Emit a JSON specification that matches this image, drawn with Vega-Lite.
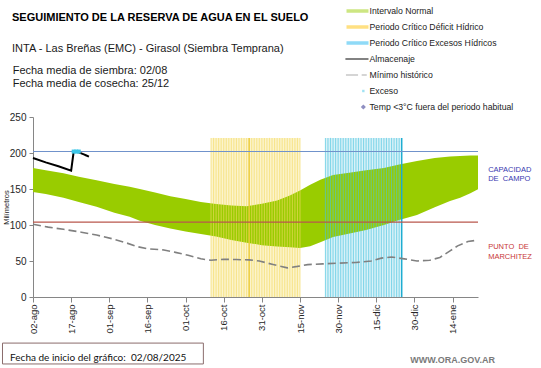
{
  "$schema": "https://vega.github.io/schema/vega-lite/v6.json",
  "width": 445,
  "height": 180,
  "autosize": {"type": "none"},
  "padding": {"left": 33, "top": 117, "right": 63, "bottom": 71},
  "background": "white",
  "title": {
    "text": "SEGUIMIENTO DE LA RESERVA DE AGUA EN EL SUELO",
    "subtitle": "INTA - Las Breñas (EMC) - Girasol (Siembra Temprana)",
    "anchor": "start",
    "frame": "group",
    "dx": -21,
    "offset": -53.5,
    "font": "Liberation Sans",
    "fontSize": 11,
    "fontWeight": "bold",
    "color": "#000000",
    "subtitleFont": "Liberation Sans",
    "subtitleFontSize": 11,
    "subtitleLineHeight": 12.4,
    "subtitlePadding": 19.5,
    "subtitleColor": "#1a1a1a"
  },
  "datasets": {
    "periodos": [
      {"inicio": "2025-10-11", "fin": "2025-11-15", "tipo": "deficit", "base": 0, "tope": 221},
      {"inicio": "2025-11-25", "fin": "2025-12-25", "tipo": "exceso", "base": 0, "tope": 221}
    ],
    "banda": [
      {"fecha": "2025-08-02", "minimo": 146, "maximo": 179},
      {"fecha": "2025-08-07", "minimo": 143, "maximo": 176},
      {"fecha": "2025-08-14", "minimo": 138, "maximo": 172},
      {"fecha": "2025-08-20", "minimo": 132, "maximo": 167},
      {"fecha": "2025-08-27", "minimo": 125.5, "maximo": 162},
      {"fecha": "2025-09-03", "minimo": 117, "maximo": 157},
      {"fecha": "2025-09-09", "minimo": 111.5, "maximo": 153},
      {"fecha": "2025-09-13", "minimo": 106, "maximo": 150},
      {"fecha": "2025-09-19", "minimo": 100, "maximo": 145},
      {"fecha": "2025-09-25", "minimo": 95, "maximo": 140},
      {"fecha": "2025-10-01", "minimo": 91, "maximo": 136},
      {"fecha": "2025-10-07", "minimo": 87.5, "maximo": 132},
      {"fecha": "2025-10-13", "minimo": 84, "maximo": 129},
      {"fecha": "2025-10-19", "minimo": 79, "maximo": 127},
      {"fecha": "2025-10-25", "minimo": 75.5, "maximo": 126},
      {"fecha": "2025-10-31", "minimo": 72, "maximo": 129.5},
      {"fecha": "2025-11-06", "minimo": 70, "maximo": 134},
      {"fecha": "2025-11-11", "minimo": 69, "maximo": 141},
      {"fecha": "2025-11-15", "minimo": 68, "maximo": 148},
      {"fecha": "2025-11-19", "minimo": 70.5, "maximo": 156},
      {"fecha": "2025-11-23", "minimo": 76, "maximo": 163},
      {"fecha": "2025-11-28", "minimo": 83.5, "maximo": 169.5},
      {"fecha": "2025-12-05", "minimo": 88.5, "maximo": 173},
      {"fecha": "2025-12-11", "minimo": 93, "maximo": 176},
      {"fecha": "2025-12-18", "minimo": 100, "maximo": 179},
      {"fecha": "2025-12-24", "minimo": 107, "maximo": 184},
      {"fecha": "2025-12-31", "minimo": 114, "maximo": 189},
      {"fecha": "2026-01-07", "minimo": 124.5, "maximo": 193},
      {"fecha": "2026-01-13", "minimo": 133.5, "maximo": 195},
      {"fecha": "2026-01-17", "minimo": 138, "maximo": 196},
      {"fecha": "2026-01-21", "minimo": 144, "maximo": 196.5},
      {"fecha": "2026-01-24", "minimo": 149.5, "maximo": 196.5}
    ],
    "dias_criticos": [
      {"fecha": "2025-10-11", "tipo": "deficit", "base": 0, "tope": 221},
      {"fecha": "2025-10-12", "tipo": "deficit", "base": 0, "tope": 221},
      {"fecha": "2025-10-13", "tipo": "deficit", "base": 0, "tope": 221},
      {"fecha": "2025-10-14", "tipo": "deficit", "base": 0, "tope": 221},
      {"fecha": "2025-10-15", "tipo": "deficit", "base": 0, "tope": 221},
      {"fecha": "2025-10-16", "tipo": "deficit", "base": 0, "tope": 221},
      {"fecha": "2025-10-17", "tipo": "deficit", "base": 0, "tope": 221},
      {"fecha": "2025-10-18", "tipo": "deficit", "base": 0, "tope": 221},
      {"fecha": "2025-10-19", "tipo": "deficit", "base": 0, "tope": 221},
      {"fecha": "2025-10-20", "tipo": "deficit", "base": 0, "tope": 221},
      {"fecha": "2025-10-21", "tipo": "deficit", "base": 0, "tope": 221},
      {"fecha": "2025-10-22", "tipo": "deficit", "base": 0, "tope": 221},
      {"fecha": "2025-10-23", "tipo": "deficit", "base": 0, "tope": 221},
      {"fecha": "2025-10-24", "tipo": "deficit", "base": 0, "tope": 221},
      {"fecha": "2025-10-25", "tipo": "deficit", "base": 0, "tope": 221},
      {"fecha": "2025-10-26", "tipo": "deficit", "base": 0, "tope": 221},
      {"fecha": "2025-10-27", "tipo": "deficit", "base": 0, "tope": 221},
      {"fecha": "2025-10-28", "tipo": "deficit", "base": 0, "tope": 221},
      {"fecha": "2025-10-29", "tipo": "deficit", "base": 0, "tope": 221},
      {"fecha": "2025-10-30", "tipo": "deficit", "base": 0, "tope": 221},
      {"fecha": "2025-10-31", "tipo": "deficit", "base": 0, "tope": 221},
      {"fecha": "2025-11-01", "tipo": "deficit", "base": 0, "tope": 221},
      {"fecha": "2025-11-02", "tipo": "deficit", "base": 0, "tope": 221},
      {"fecha": "2025-11-03", "tipo": "deficit", "base": 0, "tope": 221},
      {"fecha": "2025-11-04", "tipo": "deficit", "base": 0, "tope": 221},
      {"fecha": "2025-11-05", "tipo": "deficit", "base": 0, "tope": 221},
      {"fecha": "2025-11-06", "tipo": "deficit", "base": 0, "tope": 221},
      {"fecha": "2025-11-07", "tipo": "deficit", "base": 0, "tope": 221},
      {"fecha": "2025-11-08", "tipo": "deficit", "base": 0, "tope": 221},
      {"fecha": "2025-11-09", "tipo": "deficit", "base": 0, "tope": 221},
      {"fecha": "2025-11-10", "tipo": "deficit", "base": 0, "tope": 221},
      {"fecha": "2025-11-11", "tipo": "deficit", "base": 0, "tope": 221},
      {"fecha": "2025-11-12", "tipo": "deficit", "base": 0, "tope": 221},
      {"fecha": "2025-11-13", "tipo": "deficit", "base": 0, "tope": 221},
      {"fecha": "2025-11-14", "tipo": "deficit", "base": 0, "tope": 221},
      {"fecha": "2025-11-15", "tipo": "deficit", "base": 0, "tope": 221},
      {"fecha": "2025-11-25", "tipo": "exceso", "base": 0, "tope": 221},
      {"fecha": "2025-11-26", "tipo": "exceso", "base": 0, "tope": 221},
      {"fecha": "2025-11-27", "tipo": "exceso", "base": 0, "tope": 221},
      {"fecha": "2025-11-28", "tipo": "exceso", "base": 0, "tope": 221},
      {"fecha": "2025-11-29", "tipo": "exceso", "base": 0, "tope": 221},
      {"fecha": "2025-11-30", "tipo": "exceso", "base": 0, "tope": 221},
      {"fecha": "2025-12-01", "tipo": "exceso", "base": 0, "tope": 221},
      {"fecha": "2025-12-02", "tipo": "exceso", "base": 0, "tope": 221},
      {"fecha": "2025-12-03", "tipo": "exceso", "base": 0, "tope": 221},
      {"fecha": "2025-12-04", "tipo": "exceso", "base": 0, "tope": 221},
      {"fecha": "2025-12-05", "tipo": "exceso", "base": 0, "tope": 221},
      {"fecha": "2025-12-06", "tipo": "exceso", "base": 0, "tope": 221},
      {"fecha": "2025-12-07", "tipo": "exceso", "base": 0, "tope": 221},
      {"fecha": "2025-12-08", "tipo": "exceso", "base": 0, "tope": 221},
      {"fecha": "2025-12-09", "tipo": "exceso", "base": 0, "tope": 221},
      {"fecha": "2025-12-10", "tipo": "exceso", "base": 0, "tope": 221},
      {"fecha": "2025-12-11", "tipo": "exceso", "base": 0, "tope": 221},
      {"fecha": "2025-12-12", "tipo": "exceso", "base": 0, "tope": 221},
      {"fecha": "2025-12-13", "tipo": "exceso", "base": 0, "tope": 221},
      {"fecha": "2025-12-14", "tipo": "exceso", "base": 0, "tope": 221},
      {"fecha": "2025-12-15", "tipo": "exceso", "base": 0, "tope": 221},
      {"fecha": "2025-12-16", "tipo": "exceso", "base": 0, "tope": 221},
      {"fecha": "2025-12-17", "tipo": "exceso", "base": 0, "tope": 221},
      {"fecha": "2025-12-18", "tipo": "exceso", "base": 0, "tope": 221},
      {"fecha": "2025-12-19", "tipo": "exceso", "base": 0, "tope": 221},
      {"fecha": "2025-12-20", "tipo": "exceso", "base": 0, "tope": 221},
      {"fecha": "2025-12-21", "tipo": "exceso", "base": 0, "tope": 221},
      {"fecha": "2025-12-22", "tipo": "exceso", "base": 0, "tope": 221},
      {"fecha": "2025-12-23", "tipo": "exceso", "base": 0, "tope": 221},
      {"fecha": "2025-12-24", "tipo": "exceso", "base": 0, "tope": 221},
      {"fecha": "2025-12-25", "tipo": "exceso", "base": 0, "tope": 221}
    ],
    "lineas_marcadas": [
      {"fecha": "2025-10-26", "tipo": "deficit", "base": 0, "tope": 221},
      {"fecha": "2025-12-25", "tipo": "exceso", "base": 0, "tope": 221}
    ],
    "referencias": [
      {"nombre": "Capacidad de campo", "valor": 202},
      {"nombre": "Punto de marchitez", "valor": 104}
    ],
    "minimo_historico": [
      {"fecha": "2025-08-02", "valor": 101},
      {"fecha": "2025-08-08", "valor": 97},
      {"fecha": "2025-08-14", "valor": 94},
      {"fecha": "2025-08-21", "valor": 90},
      {"fecha": "2025-08-27", "valor": 86},
      {"fecha": "2025-09-02", "valor": 81},
      {"fecha": "2025-09-07", "valor": 76},
      {"fecha": "2025-09-12", "valor": 70},
      {"fecha": "2025-09-16", "valor": 67},
      {"fecha": "2025-09-22", "valor": 65.5},
      {"fecha": "2025-09-27", "valor": 62},
      {"fecha": "2025-10-02", "valor": 58},
      {"fecha": "2025-10-07", "valor": 53},
      {"fecha": "2025-10-11", "valor": 51},
      {"fecha": "2025-10-16", "valor": 52.5},
      {"fecha": "2025-10-21", "valor": 52},
      {"fecha": "2025-10-26", "valor": 51.5},
      {"fecha": "2025-10-30", "valor": 50},
      {"fecha": "2025-11-04", "valor": 45.5},
      {"fecha": "2025-11-10", "valor": 40.5},
      {"fecha": "2025-11-14", "valor": 42.5},
      {"fecha": "2025-11-18", "valor": 45},
      {"fecha": "2025-11-24", "valor": 46},
      {"fecha": "2025-11-30", "valor": 47},
      {"fecha": "2025-12-07", "valor": 48},
      {"fecha": "2025-12-13", "valor": 50},
      {"fecha": "2025-12-17", "valor": 54},
      {"fecha": "2025-12-21", "valor": 55.5},
      {"fecha": "2025-12-26", "valor": 53},
      {"fecha": "2025-12-31", "valor": 50},
      {"fecha": "2026-01-05", "valor": 51},
      {"fecha": "2026-01-09", "valor": 55},
      {"fecha": "2026-01-13", "valor": 64},
      {"fecha": "2026-01-16", "valor": 71},
      {"fecha": "2026-01-20", "valor": 77},
      {"fecha": "2026-01-24", "valor": 79}
    ],
    "almacenaje": [
      {"fecha": "2025-08-02", "valor": 193},
      {"fecha": "2025-08-07", "valor": 187},
      {"fecha": "2025-08-12", "valor": 181.5},
      {"fecha": "2025-08-17", "valor": 175.5},
      {"fecha": "2025-08-18", "valor": 202},
      {"fecha": "2025-08-19", "valor": 202},
      {"fecha": "2025-08-20", "valor": 201},
      {"fecha": "2025-08-21", "valor": 199.5},
      {"fecha": "2025-08-22", "valor": 198},
      {"fecha": "2025-08-23", "valor": 196.5},
      {"fecha": "2025-08-24", "valor": 195}
    ],
    "exceso": [
      {"fecha": "2025-08-18", "valor": 202},
      {"fecha": "2025-08-19", "valor": 202},
      {"fecha": "2025-08-20", "valor": 202}
    ],
    "notas": [
      {"fecha": "2026-01-28", "valor": 182, "texto": "CAPACIDAD\nDE\u00a0 CAMPO", "tipo": "cc"},
      {"fecha": "2026-01-28", "valor": 74.4, "texto": "PUNTO\u00a0 DE\nMARCHITEZ", "tipo": "pm"}
    ],
    "fechas_cultivo": [
      {"fecha": "2025-07-25", "valor": 309.7, "texto": "Fecha media de siembra: 02/08\nFecha media de cosecha: 25/12"}
    ],
    "pie_caja": [
      {"inicio": "2025-07-21", "fin": "2025-10-08", "abajo": -93, "arriba": -64}
    ],
    "pie_textos": [
      {"fecha": "2025-07-24", "valor": -84.5, "texto": "Fecha de inicio del gráfico:\u00a0 02/08/2025", "tipo": "inicio"},
      {"fecha": "2026-01-14", "valor": -87.5, "texto": "WWW.ORA.GOV.AR", "tipo": "web"}
    ],
    "leyenda": [
      {"serie": "Intervalo Normal"},
      {"serie": "Periodo Crítico Déficit Hídrico"},
      {"serie": "Periodo Crítico Excesos Hídricos"},
      {"serie": "Almacenaje"},
      {"serie": "Mínimo histórico"},
      {"serie": "Exceso"},
      {"serie": "Temp <3°C fuera del periodo habitual"}
    ]
  },
  "layer": [
    {
      "data": {"name": "periodos"},
      "mark": {"type": "rect"},
      "encoding": {
        "x": {
          "field": "inicio",
          "type": "temporal",
          "title": null,
          "scale": {"type": "utc", "domain": [{"year": 2025, "month": 8, "date": 2, "utc": true}, {"year": 2026, "month": 1, "date": 24, "utc": true}]},
          "axis": {
            "title": null,
            "values": [
              {"year": 2025, "month": 8, "date": 2, "utc": true},
              {"year": 2025, "month": 8, "date": 17, "utc": true},
              {"year": 2025, "month": 9, "date": 1, "utc": true},
              {"year": 2025, "month": 9, "date": 16, "utc": true},
              {"year": 2025, "month": 10, "date": 1, "utc": true},
              {"year": 2025, "month": 10, "date": 16, "utc": true},
              {"year": 2025, "month": 10, "date": 31, "utc": true},
              {"year": 2025, "month": 11, "date": 15, "utc": true},
              {"year": 2025, "month": 11, "date": 30, "utc": true},
              {"year": 2025, "month": 12, "date": 15, "utc": true},
              {"year": 2025, "month": 12, "date": 30, "utc": true},
              {"year": 2026, "month": 1, "date": 14, "utc": true}
            ],
            "labelExpr": "utcFormat(datum.value, '%d') + '-' + ['ene','feb','mar','abr','may','jun','jul','ago','sep','oct','nov','dic'][utcmonth(datum.value)]",
            "labelAngle": -90,
            "labelAlign": "right",
            "labelBaseline": "middle",
            "labelFontSize": 9.5,
            "labelPadding": 2,
            "tickSize": 5,
            "labelOverlap": false
          }
        },
        "x2": {"field": "fin"},
        "y": {
          "field": "base",
          "type": "quantitative",
          "title": "Milímetros",
          "scale": {"domain": [0, 250], "nice": false},
          "axis": {
            "title": "Milímetros",
            "titleFont": "Liberation Sans",
            "titleFontSize": 7.5,
            "titleFontWeight": "normal",
            "titleColor": "#222222",
            "titleX": -27,
            "titleY": 90,
            "titleAngle": -90,
            "titleAlign": "center",
            "titleBaseline": "middle",
            "values": [0, 50, 100, 150, 200, 250],
            "tickCount": 6,
            "labelOverlap": false,
            "labelFontSize": 10,
            "labelPadding": 3,
            "tickSize": 4
          }
        },
        "y2": {"field": "tope"},
        "color": {"condition": {"test": "datum.tipo == 'deficit'", "value": "#fcf4cc"}, "value": "#d9f2f8"}
      }
    },
    {
      "data": {"name": "banda"},
      "mark": {"type": "area", "color": "#99cc00", "opacity": 1},
      "encoding": {
        "x": {"field": "fecha", "type": "temporal"},
        "y": {"field": "minimo", "type": "quantitative"},
        "y2": {"field": "maximo"}
      }
    },
    {
      "data": {"name": "dias_criticos"},
      "mark": {"type": "rule", "strokeWidth": 1.1, "opacity": 0.6},
      "encoding": {
        "x": {"field": "fecha", "type": "temporal"},
        "y": {"field": "base", "type": "quantitative"},
        "y2": {"field": "tope"},
        "color": {"condition": {"test": "datum.tipo == 'deficit'", "value": "#f3db62"}, "value": "#48c3e0"}
      }
    },
    {
      "data": {"name": "lineas_marcadas"},
      "mark": {"type": "rule", "strokeWidth": 1.3},
      "encoding": {
        "x": {"field": "fecha", "type": "temporal"},
        "y": {"field": "base", "type": "quantitative"},
        "y2": {"field": "tope"},
        "color": {"condition": {"test": "datum.tipo == 'deficit'", "value": "#ebc934"}, "value": "#18a9cf"}
      }
    },
    {
      "data": {"name": "referencias"},
      "mark": {"type": "rule", "strokeWidth": 1.1},
      "encoding": {
        "y": {"field": "valor", "type": "quantitative"},
        "color": {"condition": {"test": "datum.nombre == 'Capacidad de campo'", "value": "#7092cb"}, "value": "#b9574d"}
      }
    },
    {
      "data": {"name": "minimo_historico"},
      "mark": {"type": "line", "color": "#808080", "strokeWidth": 1.6, "strokeDash": [8, 4]},
      "encoding": {
        "x": {"field": "fecha", "type": "temporal"},
        "y": {"field": "valor", "type": "quantitative"}
      }
    },
    {
      "data": {"name": "almacenaje"},
      "mark": {"type": "line", "color": "#000000", "strokeWidth": 2},
      "encoding": {
        "x": {"field": "fecha", "type": "temporal"},
        "y": {"field": "valor", "type": "quantitative"}
      }
    },
    {
      "data": {"name": "exceso"},
      "mark": {"type": "square", "color": "#3cc6e8", "size": 16, "opacity": 1},
      "encoding": {
        "x": {"field": "fecha", "type": "temporal"},
        "y": {"field": "valor", "type": "quantitative"}
      }
    },
    {
      "data": {"name": "notas"},
      "mark": {"type": "text", "align": "left", "baseline": "top", "lineBreak": "\n", "font": "Liberation Sans", "fontSize": 7.5, "lineHeight": 9.3},
      "encoding": {
        "x": {"field": "fecha", "type": "temporal"},
        "y": {"field": "valor", "type": "quantitative"},
        "text": {"field": "texto"},
        "color": {"condition": {"test": "datum.tipo == 'cc'", "value": "#3838b0"}, "value": "#c83838"}
      }
    },
    {
      "data": {"name": "fechas_cultivo"},
      "mark": {"type": "text", "align": "left", "baseline": "alphabetic", "lineBreak": "\n", "font": "Liberation Sans", "fontSize": 11, "lineHeight": 13, "color": "#1a1a1a"},
      "encoding": {
        "x": {"field": "fecha", "type": "temporal"},
        "y": {"field": "valor", "type": "quantitative"},
        "text": {"field": "texto"}
      }
    },
    {
      "data": {"name": "pie_caja"},
      "mark": {"type": "rect", "fill": "#ffffff", "stroke": "#8a6c6c", "strokeWidth": 1},
      "encoding": {
        "x": {"field": "inicio", "type": "temporal"},
        "x2": {"field": "fin"},
        "y": {"field": "arriba", "type": "quantitative"},
        "y2": {"field": "abajo"}
      }
    },
    {
      "data": {"name": "pie_textos"},
      "transform": [{"filter": "datum.tipo == 'inicio'"}],
      "mark": {"type": "text", "align": "left", "baseline": "middle", "font": "Lato", "fontSize": 10, "color": "#111111"},
      "encoding": {
        "x": {"field": "fecha", "type": "temporal"},
        "y": {"field": "valor", "type": "quantitative"},
        "text": {"field": "texto"}
      }
    },
    {
      "data": {"name": "pie_textos"},
      "transform": [{"filter": "datum.tipo == 'web'"}],
      "mark": {"type": "text", "align": "center", "baseline": "middle", "font": "Liberation Sans", "fontSize": 9, "fontWeight": "bold", "color": "#7a7a7a"},
      "encoding": {
        "x": {"field": "fecha", "type": "temporal"},
        "y": {"field": "valor", "type": "quantitative"},
        "text": {"field": "texto"}
      }
    },
    {
      "data": {"name": "leyenda"},
      "transform": [{"filter": "false"}],
      "mark": {"type": "point", "filled": true},
      "encoding": {
        "color": {
          "field": "serie",
          "type": "nominal",
          "scale": {
            "domain": ["Intervalo Normal", "Periodo Crítico Déficit Hídrico", "Periodo Crítico Excesos Hídricos", "Almacenaje", "Mínimo histórico", "Exceso", "Temp <3°C fuera del periodo habitual"],
            "range": ["#99cc00", "#ffc000", "#1ab4ee", "#000000", "#8c8c8c", "#3ec4e6", "#1a1a80"]
          },
          "legend": {
            "title": null,
            "orient": "none",
            "legendX": 313.5,
            "legendY": -117,
            "symbolSize": 484,
            "symbolStrokeWidth": 0,
            "symbolOpacity": 1,
            "labelFont": "Liberation Sans",
            "labelFontSize": 8.7,
            "labelColor": "#222222",
            "labelOffset": 1,
            "rowPadding": -0.3,
            "padding": 0,
            "labelLimit": 400,
            "labelExpr": "(datum.label == 'Exceso' || datum.label == 'Temp <3°C fuera del periodo habitual' ? '\u00a0\u00a0\u00a0' : '') + datum.label"
          }
        },
        "shape": {
          "field": "serie",
          "type": "nominal",
          "scale": {
            "domain": ["Intervalo Normal", "Periodo Crítico Déficit Hídrico", "Periodo Crítico Excesos Hídricos", "Almacenaje", "Mínimo histórico", "Exceso", "Temp <3°C fuera del periodo habitual"],
            "range": [
              "M-1,-0.16H1V0.16H-1Z",
              "M-1,-0.16H1V0.16H-1Z",
              "M-1,-0.16H1V0.16H-1Z",
              "M-1.1,-0.09H1V0.09H-1.1Z",
              "M-1.05,-0.07H0.05V0.07H-1.05Z M0.38,-0.07H0.84V0.07H0.38Z",
              "M0.42,-0.11H0.64V0.11H0.42Z",
              "M0.53,-0.23L0.76,0L0.53,0.23L0.3,0Z"
            ]
          }
        }
      }
    }
  ],
  "config": {
    "font": "Liberation Sans",
    "view": {"stroke": null},
    "axis": {
      "grid": false,
      "domainColor": "#868686",
      "tickColor": "#868686",
      "labelColor": "#262626",
      "labelFont": "Liberation Sans"
    },
    "axisY": {"labelOverlap": false}
  }
}
